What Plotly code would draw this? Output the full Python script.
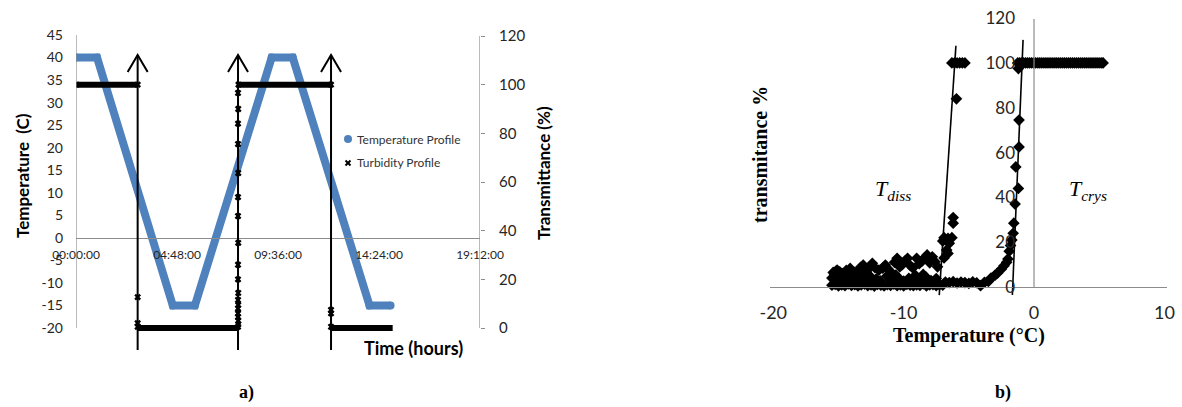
import plotly.graph_objects as go

W, H = 1182, 407

# ---------------- Panel a data ----------------
temp_hours = [0.0, 1.0, 4.6, 5.65, 9.3, 10.3, 13.95, 14.95]
temp_c = [40, 40, -15, -15, 40, 40, -15, -15]

# turbidity plateaus (start hour, end hour, transmittance %)
plateau_start = [0.0, 2.93, 7.72, 12.12]
plateau_end = [2.93, 7.70, 12.12, 15.05]
plateau_level = [100, 0, 100, 0]

# transition measurements (x markers)
turb_hours = [0.02, 2.93, 2.93, 2.93, 2.93,
              7.70, 7.71, 7.71, 7.70, 7.70, 7.70, 7.71, 7.70, 7.71, 7.70,
              7.70, 7.71, 7.70, 7.70, 7.71, 7.70, 7.70, 7.71, 7.70, 7.72,
              12.12, 12.12, 12.12, 12.12]
turb_pct = [100, 100, 12.7, 2.0, 0.5,
            0.5, 1.5, 3.0, 4.5, 6.0, 8.0, 9.5, 11.5, 14.4, 20.0,
            26.0, 35.0, 46.0, 53.8, 63.7, 75.6, 84.0, 90.0, 96.6, 100,
            100, 7.4, 6.0, 0.5]

arrow_hours = [2.93, 7.70, 12.12]

time_ticks = [0, 4.8, 9.6, 14.4, 19.2]
time_labels = ["00:00:00", "04:48:00", "09:36:00", "14:24:00", "19:12:00"]
temp_ticks = [-20, -15, -10, -5, 0, 5, 10, 15, 20, 25, 30, 35, 40, 45]
temp_labels = ["-20", "-15", "-10", "-5", "0", "5", "10", "15", "20", "25", "30", "35", "40", "45"]
trans_ticks = [0, 20, 40, 60, 80, 100, 120]

# ---------------- Panel b data ----------------
plateau_T = [-1.25, -1.1, -0.95, -0.8, -0.65, -0.5, -0.35, -0.2, -0.05, 0.1, 0.25,
             0.4, 0.55, 0.7, 0.85, 1.0, 1.15, 1.3, 1.45, 1.6, 1.75, 1.9, 2.05,
             2.2, 2.35, 2.5, 2.65, 2.8, 2.95, 3.1, 3.25, 3.4, 3.55, 3.7, 3.85,
             4.0, 4.15, 4.3, 4.45, 4.6, 4.75, 4.9, 5.05, 5.2, 5.3]
plateau_Tr = [100] * len(plateau_T)

crys_T = [-3.3, -3.0, -2.8, -2.5, -2.3, -2.1, -2.0, -1.9, -1.8, -1.7, -1.6,
          -1.55, -1.45, -1.2, -1.4, -1.15, -1.15, -1.2]
crys_Tr = [4.0, 5.2, 6.2, 8.0, 9.5, 11.0, 12.5, 16.0, 18.5, 21.0, 24.0,
           28.5, 37.0, 44.0, 53.6, 62.5, 74.5, 97.5]

diss_T = [-7.0, -6.9, -6.6, -6.5, -6.3, -6.2, -6.2, -6.7, -6.6, -6.9,
          -6.3, -6.1, -5.9, -5.7, -5.5, -5.3, -5.95]
diss_Tr = [20.5, 22.0, 21.7, 19.5, 22.0, 28.5, 31.0, 16.5, 15.0, 13.0,
           100, 100, 100, 100, 100, 100, 84]

lowA_T = [-15.5, -15.25, -15.0, -14.75, -14.5, -14.25, -14.0, -13.75, -13.5, -13.25,
          -13.0, -12.75, -12.5, -12.25, -12.0, -11.75, -11.5, -11.25, -11.0, -10.75,
          -10.5, -10.25, -10.0, -9.75, -9.5, -9.25, -9.0, -8.75, -8.5, -8.25,
          -8.0, -7.75, -7.5, -7.25, -7.0]
lowA_Tr = [0.8, 1.2, 0.5, 1.0, 0.6, 1.4, 0.7, 1.1, 0.5, 0.9, 1.3, 0.6, 1.0, 0.4,
           1.2, 0.8, 0.5, 1.1, 0.7, 1.3, 0.6, 0.9, 0.5, 1.2, 0.8, 0.6, 1.0, 0.7,
           1.4, 0.5, 0.9, 1.1, 0.6, 1.0, 0.8]

lowB_T = [-15.5, -15.3, -15.1, -14.9, -14.6, -14.4, -14.2, -14.0, -13.8, -13.6,
          -13.3, -13.1, -12.9, -12.7, -12.5, -12.3, -12.1, -11.8, -11.3, -10.9,
          -10.6, -10.4, -10.0, -9.6, -9.3, -9.1, -8.7, -8.5, -8.3, -7.9, -7.5]
lowB_Tr = [4.0, 5.5, 3.2, 2.6, 4.6, 2.8, 5.1, 4.2, 2.7, 3.5, 5.0, 3.1, 2.9, 4.8,
           4.4, 2.6, 3.6, 2.7, 4.8, 3.0, 5.3, 4.1, 2.6, 3.9, 2.5, 5.2, 3.3, 5.6,
           4.5, 2.9, 3.8]

upper_T = [-15.4, -15.2, -15.1, -14.9, -14.7, -14.4, -14.1, -13.8, -13.5, -13.3,
           -13.1, -12.9, -12.7, -12.4, -12.2, -11.9, -11.6, -11.4, -11.2, -11.0,
           -10.7, -10.5, -10.3, -10.1, -9.9, -9.7, -9.5, -9.3, -9.0, -8.8, -8.6,
           -8.4, -8.2, -8.0, -7.8, -7.6, -7.4]
upper_Tr = [6.5, 7.0, 7.6, 6.8, 6.0, 7.4, 8.3, 6.6, 7.0, 8.8, 9.8, 7.2, 8.0, 10.6,
            8.6, 7.5, 8.4, 9.8, 8.0, 6.8, 11.0, 12.8, 9.0, 10.0, 11.6, 12.8, 9.6,
            8.5, 12.8, 10.4, 11.5, 13.0, 14.3, 10.8, 13.5, 11.3, 9.0]

mid_T = [-6.8, -6.5, -6.2, -5.9, -5.6, -5.3, -5.0, -4.7, -4.4, -4.1, -3.8, -3.5]
mid_Tr = [2.2, 2.0, 2.4, 1.8, 2.2, 2.0, 1.6, 2.3, 1.9, 0.6, 2.1, 2.5]

tan_diss_T = [-5.99, -7.27]
tan_diss_Tr = [107.7, -3.6]
tan_crys_T = [-0.84, -1.66]
tan_crys_Tr = [110.3, -3.6]

b_xticks = [-20, -10, 0, 10]
b_xlabels = ["-20", "-10", "0", "10"]
b_yticks = [0, 20, 40, 60, 80, 100, 120]

# ---------------- layout helpers ----------------
def px_x(x):
    return x / W

def px_y(y):
    return 1 - y / H

def axis_range(v0, p0, v1, p1, top_px, bottom_px):
    # value v0 sits at pixel row p0, v1 at p1; return range for domain rows
    k = (v1 - v0) / (p0 - p1)
    return [v0 - (bottom_px - p0) * k, v1 + (p1 - top_px) * k]

BLUE = "#4F81BD"
AXC = "#8C8C8C"
SANS = "Lato"
SERIF = "Liberation Serif"

# panel a: plotting area (px) a bit larger than the drawn axes
A_TOP, A_BOT = 28, 342
ax_dom = [px_x(76), px_x(480)]
ay_dom = [px_y(A_BOT), px_y(A_TOP)]
a_yrange = axis_range(-20, 328, 45, 35, A_TOP, A_BOT)
a_y2range = axis_range(0, 328, 120, 36, A_TOP, A_BOT)
xa_pos = ay_dom[0] + (0 - a_yrange[0]) / (a_yrange[1] - a_yrange[0]) * (ay_dom[1] - ay_dom[0])
px_per_hour = (480 - 76) / 19.2
px_per_pct = (328 - 36) / 120

# panel b domains
bx_dom = [px_x(770), px_x(1167)]
bx_range = [-20.25, 10.2]
by_range = [-4.5, 120.5]
by_dom = [px_y(297.1), px_y(17.0)]
bx_pos = by_dom[0] + (0 - by_range[0]) / (by_range[1] - by_range[0]) * (by_dom[1] - by_dom[0])
by_pos = bx_dom[0] + (0 - bx_range[0]) / (bx_range[1] - bx_range[0]) * (bx_dom[1] - bx_dom[0])

fig = go.Figure()

# temperature profile
fig.add_trace(go.Scatter(x=temp_hours, y=temp_c, mode="lines+markers",
                         line=dict(color=BLUE, width=8),
                         marker=dict(color=BLUE, size=8),
                         xaxis="x", yaxis="y", showlegend=False, hoverinfo="skip"))

# turbidity plateaus
seg_x, seg_y = [], []
for s, e, lv in zip(plateau_start, plateau_end, plateau_level):
    seg_x += [s, e, None]
    seg_y += [lv, lv, None]
fig.add_trace(go.Scatter(x=seg_x, y=seg_y, mode="lines",
                         line=dict(color="black", width=6),
                         xaxis="x", yaxis="y2", showlegend=False, hoverinfo="skip"))
fig.add_trace(go.Scatter(x=turb_hours, y=turb_pct, mode="markers",
                         marker=dict(symbol="x", color="black", size=6),
                         xaxis="x", yaxis="y2", showlegend=False, hoverinfo="skip"))

# chevron arrow heads (open) at the top of each vertical marker line
TIP = 112.2
chev_x, chev_y = [], []
dxh = 10 / px_per_hour
dyp = 17 / px_per_pct
for h in arrow_hours:
    chev_x += [h - dxh, h, h + dxh, None]
    chev_y += [TIP - dyp, TIP, TIP - dyp, None]
fig.add_trace(go.Scatter(x=chev_x, y=chev_y, mode="lines",
                         line=dict(color="black", width=2),
                         xaxis="x", yaxis="y2", showlegend=False, hoverinfo="skip"))

# panel b scatter
bT = plateau_T + crys_T + diss_T + lowA_T + lowB_T + upper_T + mid_T
bTr = plateau_Tr + crys_Tr + diss_Tr + lowA_Tr + lowB_Tr + upper_Tr + mid_Tr
fig.add_trace(go.Scatter(x=bT, y=bTr, mode="markers",
                         marker=dict(symbol="diamond", color="black", size=9),
                         xaxis="x2", yaxis="y3", showlegend=False, hoverinfo="skip"))
for tx, ty in [(tan_diss_T, tan_diss_Tr), (tan_crys_T, tan_crys_Tr)]:
    fig.add_trace(go.Scatter(x=tx, y=ty, mode="lines",
                             line=dict(color="black", width=1.6),
                             xaxis="x2", yaxis="y3", showlegend=False, hoverinfo="skip"))

annotations = []
# vertical arrow shafts (extend below the plot area)
for h in arrow_hours:
    annotations.append(dict(x=h, y=TIP, ax=h, ay=-9.7, xref="x", yref="y2",
                            axref="x", ayref="y2", showarrow=True, arrowhead=0,
                            arrowwidth=2, arrowcolor="black", text=""))

def txt(x, y, s, size, family, bold=True, angle=0, color="black", xanchor="center"):
    if bold:
        s = "<b>" + s + "</b>"
    annotations.append(dict(x=px_x(x), y=px_y(y), xref="paper", yref="paper", text=s,
                            showarrow=False, textangle=angle, xanchor=xanchor, yanchor="middle",
                            font=dict(family=family, size=size, color=color)))

txt(22, 176, "Temperature  (C)", 17, SANS, angle=-90)
txt(543, 173, "Transmittance (%)", 17, SANS, angle=-90)
txt(413, 348, "Time (hours)", 18, SANS)
txt(355, 139, "Temperature Profile", 12, SANS, bold=False, color="#333333", xanchor="left")
txt(355, 162, "Turbidity Profile", 12, SANS, bold=False, color="#333333", xanchor="left")
txt(246, 392, "a)", 18, SERIF)
txt(1003, 392, "b)", 18, SERIF)
txt(760, 155, "transmitance %", 20, SERIF, angle=-90)
txt(969, 335, "Temperature (°C)", 20, SERIF)
txt(893, 190, "<i>T</i><sub><i>diss</i></sub>", 22, SERIF, bold=False)
txt(1088, 190, "<i>T</i><sub><i>crys</i></sub>", 22, SERIF, bold=False)

shapes = [
    # panel a axis lines (left temperature axis, right transmittance axis)
    dict(type="line", xref="x", yref="y", x0=0, x1=0, y0=-20, y1=45,
         line=dict(color=AXC, width=1.2)),
    dict(type="line", xref="x", yref="y2", x0=19.2, x1=19.2, y0=0, y1=120,
         line=dict(color=AXC, width=1.2)),
    # legend markers
    dict(type="circle", xref="paper", yref="paper", x0=px_x(344), x1=px_x(352),
         y0=px_y(143), y1=px_y(135), fillcolor=BLUE, line=dict(width=0)),
    dict(type="line", xref="paper", yref="paper", x0=px_x(345.5), x1=px_x(350.5),
         y0=px_y(160.5), y1=px_y(165.5), line=dict(color="black", width=2)),
    dict(type="line", xref="paper", yref="paper", x0=px_x(345.5), x1=px_x(350.5),
         y0=px_y(165.5), y1=px_y(160.5), line=dict(color="black", width=2)),
    # panel b vertical axis line at T = 0
    dict(type="line", xref="x2", yref="y3", x0=0, x1=0, y0=0, y1=119.6,
         line=dict(color=AXC, width=1.2)),
]

fig.update_layout(
    width=W, height=H, autosize=False,
    margin=dict(l=0, r=0, t=0, b=0, pad=0, autoexpand=False),
    paper_bgcolor="white", plot_bgcolor="rgba(0,0,0,0)",
    showlegend=False,
    xaxis=dict(domain=ax_dom, range=[0, 19.2], anchor="free", position=xa_pos,
               showline=True, linecolor=AXC, linewidth=1.2, ticks="", showgrid=False,
               zeroline=False, tickvals=time_ticks, ticktext=time_labels,
               ticklabelstandoff=6, automargin=False,
               tickfont=dict(family=SANS, size=12, color="#262626")),
    yaxis=dict(domain=ay_dom, range=a_yrange, anchor="x", showline=False,
               ticks="", showgrid=False, zeroline=False,
               tickvals=temp_ticks, ticktext=temp_labels, ticklabelstandoff=12,
               automargin=False,
               tickfont=dict(family=SANS, size=14, color="#262626")),
    yaxis2=dict(domain=ay_dom, range=a_y2range, overlaying="y", side="right", anchor="x",
                showline=False, ticks="outside", ticklen=4,
                tickcolor=AXC, showgrid=False, zeroline=False, tickvals=trans_ticks,
                ticklabelstandoff=11, automargin=False,
                tickfont=dict(family=SANS, size=15, color="#262626")),
    xaxis2=dict(domain=bx_dom, range=bx_range, anchor="free", position=bx_pos,
                showline=True, linecolor=AXC, linewidth=1.2, ticks="", showgrid=False,
                zeroline=False, tickvals=b_xticks, ticktext=b_xlabels,
                ticklabelstandoff=9, automargin=False,
                tickfont=dict(family=SANS, size=18, color="#262626")),
    yaxis3=dict(domain=by_dom, range=by_range, anchor="free", position=by_pos,
                showline=False, ticks="", showgrid=False, zeroline=False,
                tickvals=b_yticks, ticklabelstandoff=19, automargin=False,
                tickfont=dict(family=SANS, size=17, color="#262626")),
    annotations=annotations, shapes=shapes,
)

fig.write_html("out.html", config={"displayModeBar": False},
               post_script="document.body.style.margin='0px';")
